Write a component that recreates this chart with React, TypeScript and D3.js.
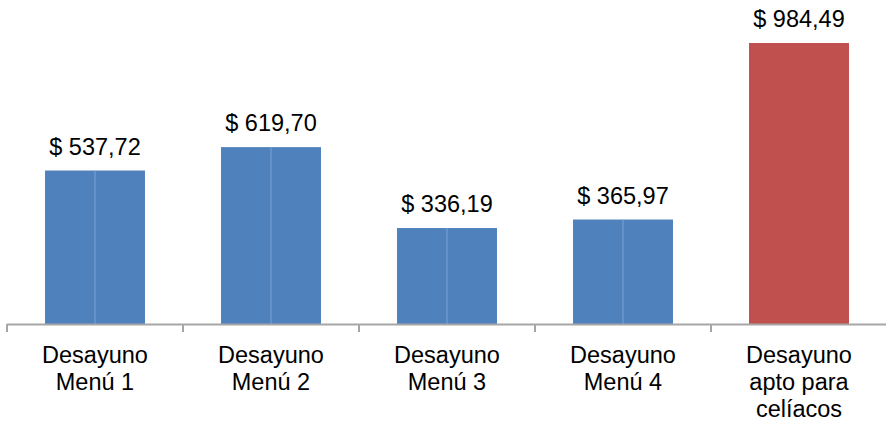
import React from "react";
import * as d3 from "d3";

const categories: string[][] = [
  ["Desayuno", "Menú 1"],
  ["Desayuno", "Menú 2"],
  ["Desayuno", "Menú 3"],
  ["Desayuno", "Menú 4"],
  ["Desayuno", "apto para", "celíacos"],
];
const values: number[] = [537.72, 619.7, 336.19, 365.97, 984.49];
const valueLabels: string[] = ["$ 537,72", "$ 619,70", "$ 336,19", "$ 365,97", "$ 984,49"];

const W = 886;
const H = 421;
const baseY = 324;
const BLUE = "#4F81BD";
const RED = "#C0504D";
const FONT = "'Liberation Sans', Arial, sans-serif";

export default function App() {
  const keys = categories.map((_, i) => String(i));
  const x = d3.scaleBand<string>().domain(keys).range([7, 887]).paddingInner(0.432).paddingOuter(0.216);
  const y = d3.scaleLinear().domain([0, 984.49]).range([baseY, 43]);
  const step = x.step();
  const boundaries = d3.range(categories.length + 1).map((i) => 7 + i * step);

  return (
    <svg width={W} height={H} style={{ position: "absolute", left: 0, top: 0, background: "#fff" }}>
      {values.map((v, i) => {
        const bx = x(String(i))!;
        const bw = x.bandwidth();
        const top = y(v);
        const isLast = i === values.length - 1;
        return (
          <g key={i}>
            <rect x={bx} y={top} width={bw} height={baseY - top} fill={isLast ? RED : BLUE} />
            {!isLast && (
              <line x1={bx + bw / 2} x2={bx + bw / 2} y1={top} y2={baseY} stroke="#7fa3d3" strokeWidth={1} />
            )}
            <text
              x={bx + bw / 2}
              y={top - 16}
              textAnchor="middle"
              fontFamily={FONT}
              fontSize={23.5}
              fill="#000"
            >
              {valueLabels[i]}
            </text>
          </g>
        );
      })}
      <line x1={7} x2={887} y1={baseY + 0.5} y2={baseY + 0.5} stroke="#a6a6a6" strokeWidth={2} />
      {boundaries.map((bx, i) => (
        <line key={i} x1={bx} x2={bx} y1={baseY} y2={baseY + 8} stroke="#a6a6a6" strokeWidth={2} />
      ))}
      {categories.map((lines, i) => (
        <text key={i} textAnchor="middle" fontFamily={FONT} fontSize={23.5} fill="#000">
          {lines.map((ln, j) => (
            <tspan key={j} x={x(String(i))! + x.bandwidth() / 2} y={363 + j * 27}>
              {ln}
            </tspan>
          ))}
        </text>
      ))}
    </svg>
  );
}
